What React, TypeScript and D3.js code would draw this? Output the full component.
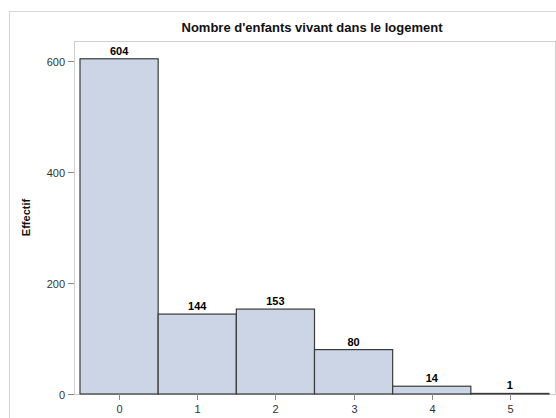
import * as d3 from 'd3';

const categories = [0, 1, 2, 3, 4, 5];
const counts = [604, 144, 153, 80, 14, 1];
const yTicks = [0, 200, 400, 600];
const title = "Nombre d'enfants vivant dans le logement";
const yLabel = 'Effectif';

const W = 556;
const H = 418;
const frame = { left: 74, top: 41, right: 555, bottom: 394 };

export default function App() {
	const xScale = d3.scaleLinear().domain([-0.5, 5.5]).range([80, 549]);
	const yScale = d3.scaleLinear().domain([0, 600]).range([frame.bottom, 61]);
	const font = 'Arial, "Liberation Sans", sans-serif';

	return (
		<svg
			width={W}
			height={H}
			style={{ position: 'absolute', left: 0, top: 0, background: '#fff' }}
			fontFamily={font}
		>
			{/* outer border */}
			<rect x={9.5} y={11.5} width={600} height={500} fill="none" stroke="#d6d6d6" />

			<text x={312} y={32} textAnchor="middle" fontSize={13} fontWeight="bold" fill="#111">
				{title}
			</text>

			{/* plot frame */}
			<rect
				x={frame.left + 0.5}
				y={frame.top + 0.5}
				width={frame.right - frame.left}
				height={frame.bottom - frame.top}
				fill="none"
				stroke="#cfcfcf"
			/>

			{/* bars */}
			{categories.map((c, i) => (
				<rect
					key={c}
					x={xScale(c - 0.5)}
					y={yScale(counts[i])}
					width={xScale(c + 0.5) - xScale(c - 0.5)}
					height={yScale(0) - yScale(counts[i])}
					fill="#cbd5e5"
					stroke="#3a3a3a"
					strokeWidth={1.2}
				/>
			))}

			{/* value labels */}
			{categories.map((c, i) => (
				<text
					key={'v' + c}
					x={xScale(c)}
					y={yScale(counts[i]) - 4}
					textAnchor="middle"
					fontSize={11}
					fontWeight="bold"
					fill="#000"
				>
					{counts[i]}
				</text>
			))}

			{/* y axis */}
			{yTicks.map((t) => (
				<g key={'y' + t} transform={`translate(0,${Math.round(yScale(t)) + 0.5})`}>
					<line x1={68} x2={frame.left} stroke="#8a8a8a" />
					<text x={65} y={4} textAnchor="end" fontSize={11} fill="#333">
						{t}
					</text>
				</g>
			))}

			{/* x axis */}
			{categories.map((c) => (
				<g key={'x' + c} transform={`translate(${Math.round(xScale(c)) + 0.5},0)`}>
					<line y1={frame.bottom} y2={frame.bottom + 6} stroke="#8a8a8a" />
					<text y={frame.bottom + 19} textAnchor="middle" fontSize={11} fill="#333">
						{c}
					</text>
				</g>
			))}

			<text
				transform={`translate(30,${(frame.top + frame.bottom) / 2}) rotate(-90)`}
				textAnchor="middle"
				fontSize={11}
				fontWeight="bold"
				fill="#111"
			>
				{yLabel}
			</text>
		</svg>
	);
}
